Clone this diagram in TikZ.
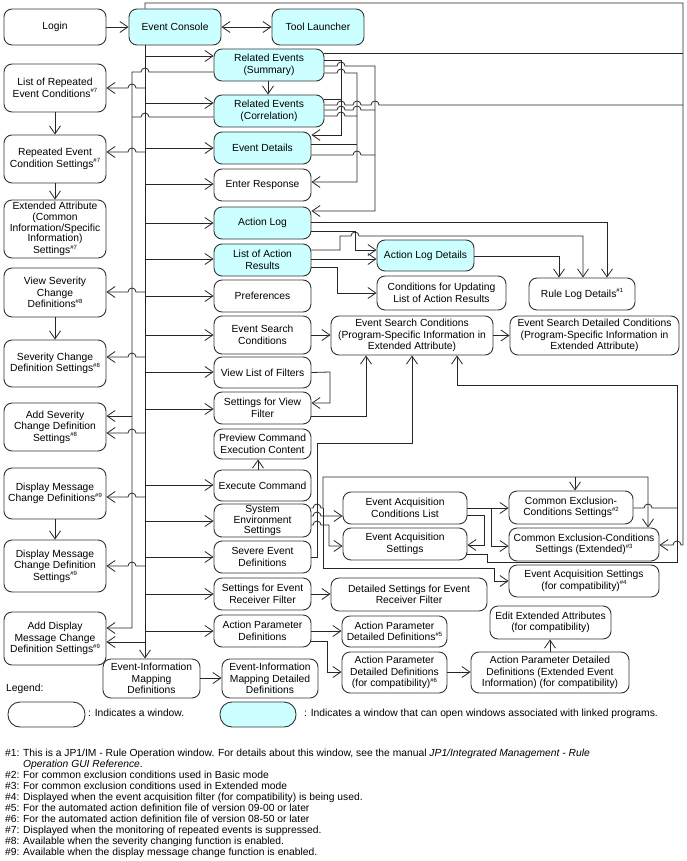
\documentclass[tikz,border=0pt]{standalone}
\usepackage{fontspec}
\setmainfont{Liberation Sans}
\usetikzlibrary{arrows.meta}
\definecolor{cyanfill}{HTML}{CCFFFF}
\definecolor{edgecol}{HTML}{333333}
\newcommand{\hopr}[2]{-- ({#1-4},#2) arc[start angle=180,end angle=0,radius=4pt]}
\newcommand{\hopl}[2]{-- ({#1+4},#2) arc[start angle=0,end angle=180,radius=4pt]}
\newcommand{\sfn}[1]{\raisebox{0.85ex}{\fontsize{6}{6}\selectfont\##1}}
\newcommand{\win}[6][]{\node[box,#1,minimum width={#4-#2},minimum height={#5-#3}] (#6) at ({(#2+#4)/2},{(#3+#5)/2})}
\tikzset{
  box/.style={draw=edgecol, line width=0.9pt, rounded corners=8pt, fill=white, align=center, inner sep=0pt, font=\fontsize{10.3}{11.5}\selectfont},
  cy/.style={fill=cyanfill},
  ln/.style={draw=black!85, line width=0.8pt},
  arr/.style={ln, -{Straight Barb[length=8pt,width=11pt]}},
  arrb/.style={ln, {Straight Barb[length=8pt,width=11pt]}-{Straight Barb[length=8pt,width=11pt]}},
  txt/.style={inner sep=0pt, anchor=west, font=\fontsize{10.3}{11.5}\selectfont, text height=7.5pt, text depth=2pt},
}
\begin{document}
\begin{tikzpicture}[x=1pt,y=-1pt]
\useasboundingbox (0,0) rectangle (687,861);
% ---------- left column
\win{4}{9}{106}{45}{login} {Login};
\win{4}{64}{106}{112}{lrec} {List of Repeated\\Event Conditions\sfn{7}};
\win{4}{135}{106}{183}{rrcs} {Repeated Event\\Condition Settings\sfn{7}};
\win[font=\fontsize{10.3}{10.7}\selectfont]{4}{200}{106}{258}{ea} {Extended Attribute\\(Common\\Information/Specific\\Information)\\Settings\sfn{7}};
\win{4}{268}{106}{317}{vscd} {View Severity\\Change\\Definitions\sfn{8}};
\win{4}{340}{106}{387}{scds} {Severity Change\\Definition Settings\sfn{8}};
\win{4}{403}{106}{451}{ascd} {Add Severity\\Change Definition\\Settings\sfn{8}};
\win{4}{468}{106}{519}{dmcd} {Display Message\\Change Definitions\sfn{9}};
\win{4}{540}{106}{592}{dmcds} {Display Message\\Change Definition\\Settings\sfn{9}};
\win{4}{612}{106}{665}{admcd} {Add Display\\Message Change\\Definition Settings\sfn{9}};
% ---------- middle column
\win[cy]{129}{9}{221}{45}{ec} {Event Console};
\win[cy]{272}{9}{364}{45}{tl} {Tool Launcher};
\win[cy]{214}{49}{324}{81}{res} {Related Events\\(Summary)};
\win[cy]{214}{95}{324}{127}{rec} {Related Events\\(Correlation)};
\win[cy]{214}{132}{311}{164}{ed} {Event Details};
\win{214}{169}{311}{201}{er} {Enter Response};
\win[cy]{214}{207}{311}{239}{al} {Action Log};
\win[cy]{214}{244}{311}{276}{lar} {List of Action\\Results};
\win{214}{280}{311}{312}{pref} {Preferences};
\win{214}{316}{311}{354}{esc} {Event Search\\Conditions};
\win{214}{357}{311}{388}{vlf} {View List of Filters};
\win{214}{392}{311}{424}{svf} {Settings for View\\Filter};
\win{214}{429}{311}{459}{pcec} {Preview Command\\Execution Content};
\win{214}{470}{311}{501}{exc} {Execute Command};
\win[font=\fontsize{10.3}{10.8}\selectfont]{214}{504}{311}{537}{ses} {System\\Environment\\Settings};
\win{214}{541}{311}{573}{sed} {Severe Event\\Definitions};
\win{214}{578}{311}{610}{serf} {Settings for Event\\Receiver Filter};
\win{214}{615}{311}{647}{apd} {Action Parameter\\Definitions};
\win{103}{659}{200}{698}{eimd} {Event-Information\\Mapping\\Definitions};
\win{222}{659}{318}{698}{eimdd} {Event-Information\\Mapping Detailed\\Definitions};
% ---------- right part
\win[cy]{377}{240}{474}{271}{ald} {Action Log Details};
\win{377}{276}{506}{310}{cfu} {Conditions for Updating\\List of Action Results};
\win{529}{278}{635}{310}{rld} {Rule Log Details\sfn{1}};
\win{331}{316}{493}{355}{escps} {Event Search Conditions\\(Program-Specific Information in\\Extended Attribute)};
\win{510}{316}{679}{355}{esdc} {Event Search Detailed Conditions\\(Program-Specific Information in\\Extended Attribute)};
\win{343}{492}{467}{524}{eacl} {Event Acquisition\\Conditions List};
\win{343}{528}{467}{560}{eas} {Event Acquisition\\Settings};
\win{509}{491}{633}{524}{cecs} {Common Exclusion-\\Conditions Settings\sfn{2}};
\win{509}{528}{659}{561}{cecx} {Common Exclusion-Conditions\\Settings (Extended)\sfn{3}};
\win{509}{565}{659}{597}{easc} {Event Acquisition Settings\\(for compatibility)\sfn{4}};
\win{331}{578}{487}{611}{dserf} {Detailed Settings for Event\\Receiver Filter};
\win{342}{616}{447}{647}{apdd5} {Action Parameter\\Detailed Definitions\sfn{5}};
\win{342}{652}{447}{693}{apdd6} {Action Parameter\\Detailed Definitions\\(for compatibility)\sfn{6}};
\win{490}{606}{611}{639}{eeac} {Edit Extended Attributes\\(for compatibility)};
\win{471}{652}{629}{693}{apdde} {Action Parameter Detailed\\Definitions (Extended Event\\Information) (for compatibility)};
% ---------- connectors: top
\draw[arr] (login.east) -- (ec.west);
\draw[arrb] (ec.east) -- (tl.west);
\draw[arr] (ec.north -| 145,0) -- (145,3) -- (683,3) -- (683,545) \hopl{677}{545} -- (cecx.east |- 0,545);
\draw[ln] (res.east |- 0,53) -- (683,53);
\draw[ln] (rec.east |- 0,105) \hopr{341}{105} \hopr{357}{105} \hopr{375}{105} -- (683,105);
% Event Console bus
\draw[arr] (ec.south -| 145,0) -- (eimd.north -| 145,0);
\foreach \n/\y in {res/56,rec/103,ed/148,er/184,al/223,lar/259,pref/296,esc/335,vlf/372,svf/409,exc/485,ses/521,sed/557,serf/594,apd/631}
  \draw[arr] (145,\y) -- (\n.west |- 0,\y);
\foreach \n/\y in {lrec/88,rrcs/152,vscd/292,scds/357,ascd/433,dmcd/497,dmcds/566}
  \draw[arr] (145,\y) \hopl{132}{\y} -- (\n.east |- 0,\y);
\draw[arr] (145,642) -- (admcd.east |- 0,642);
% related events bus to the left
\draw[arr] (res.west |- 0,72) \hopl{145}{72} -- (132,72) -- (132,628) -- (admcd.east |- 0,628);
\draw[ln] (rec.west |- 0,117) \hopl{145}{117} -- (132,117);
\draw[arr] (132,416) -- (ascd.east |- 0,416);
% left column chains
\draw[arr] (lrec.south) -- (rrcs.north);
\draw[arr] (rrcs.south) -- (ea.north);
\draw[arr] (vscd.south) -- (scds.north);
\draw[arr] (dmcd.south) -- (dmcds.north);
\draw[arr] (res.south -| 268,0) -- (rec.north -| 268,0);
\draw[arr] (exc.north -| 258,0) -- (pcec.south -| 258,0);
% related events to the right
\draw[arr] (res.east |- 0,60) -- (341,60) -- (341,135) -- (ed.east |- 0,135);
\draw[ln] (rec.east |- 0,99) -- (341,99);
\draw[arr] (res.east |- 0,73) \hopr{341}{73} -- (357,73) -- (357,182) -- (er.east |- 0,182);
\draw[ln] (rec.east |- 0,116) \hopr{341}{116} -- (357,116);
\draw[ln] (ed.east |- 0,144) -- (357,144);
\draw[arr] (res.east |- 0,66) \hopr{341}{66} -- (375,66) -- (375,211) -- (al.east |- 0,211);
\draw[ln] (rec.east |- 0,110) \hopr{341}{110} \hopr{357}{110} -- (375,110);
\draw[ln] (ed.east |- 0,155) \hopr{357}{155} -- (375,155);
% action log area
\draw[arr] (al.east |- 0,222) -- (607,222) -- (rld.north -| 607,0);
\draw[arr] (al.east |- 0,231) -- (355,231) -- (355,250) -- (ald.west |- 0,250);
\draw[arr] (lar.east |- 0,250) -- (340,250) -- (340,236) \hopr{355}{236} -- (583,236) -- (rld.north -| 583,0);
\draw[arr] (lar.east |- 0,259) -- (ald.west |- 0,259);
\draw[arr] (lar.east |- 0,267) -- (337,267) -- (337,293) -- (cfu.west |- 0,293);
\draw[arr] (ald.east |- 0,256) -- (559,256) -- (rld.north -| 559,0);
% search conditions
\draw[arr] (esc.east) -- (escps.west |- esc.east);
\draw[arr] (escps.east) -- (esdc.west);
\draw[arr] (vlf.east) -- (330,372) -- (330,403) -- (svf.east |- 0,403);
\draw[arr] (svf.east |- 0,416) -- (366,416) -- (escps.south -| 366,0);
\draw[arr] (sed.east |- 0,557) -- (317,557) -- (317,443) -- (412,443) -- (escps.south -| 412,0);
\draw[arr] (eas.east |- 0,554) -- (487,554) -- (487,562) -- (677,562) -- (677,385) -- (457,385) -- (escps.south -| 457,0);
\draw[ln] (cecs.east |- 0,508) \hopr{648}{508} -- (677,508);
% system environment settings
\draw[arr] (ses.east |- 0,508) \hopr{317}{508} -- (323,508) -- (323,477) -- (648,477) -- (cecx.north -| 648,0);
\draw[arr] (575,477) -- (cecs.north -| 575,0);
\draw[arr] (ses.east |- 0,516) \hopr{317}{516} -- (eacl.west |- 0,516);
\draw[arr] (ses.east |- 0,525) \hopr{317}{525} -- (329,525) -- (329,546) -- (eas.west |- 0,546);
\draw[arr] (323,508) -- (323,568) -- (494,568) -- (494,581) -- (easc.west |- 0,581);
% event acquisition
\draw[arr] (eacl.east |- 0,508) -- (cecs.west |- 0,508);
\draw[arr] (491,508) -- (491,546) -- (cecx.west |- 0,546);
\draw[arr] (eacl.east |- 0,515) -- (484,515) -- (484,545) -- (eas.east |- 0,545);
% lower part
\draw[arr] (serf.east |- 0,594) -- (dserf.west |- 0,594);
\draw[arr] (apd.east |- 0,631) -- (apdd5.west |- 0,631);
\draw[arr] (apd.east |- 0,641) -- (327,641) -- (327,672) -- (apdd6.west |- 0,672);
\draw[arr] (apdd6.east |- 0,672) -- (apdde.west |- 0,672);
\draw[arr] (apdde.north -| 550,0) -- (eeac.south -| 550,0);
\draw[arr] (eimd.east |- 0,678) -- (eimdd.west |- 0,678);
% ---------- legend
\node[txt] (leg) at (6,689) {Legend:};
\node[box,rounded corners=12pt,minimum width=77,minimum height=25] (lg1) at (46.5,714.5) {};
\node[txt] (lg1t) at (88,714) {: Indicates a window.};
\node[box,cy,rounded corners=12pt,minimum width=76,minimum height=25] (lg2) at (258,714.5) {};
\node[txt] (lg2t) at (304,714) {: Indicates a window that can open windows associated with linked programs.};
% ---------- footnotes
\foreach \k/\t [count=\i from 0] in {
  {\#1:}/{This is a JP1/IM - Rule Operation window. For details about this window, see the manual \textit{JP1/Integrated Management - Rule}},
  {}/{\textit{Operation GUI Reference}.},
  {\#2:}/{For common exclusion conditions used in Basic mode},
  {\#3:}/{For common exclusion conditions used in Extended mode},
  {\#4:}/{Displayed when the event acquisition filter (for compatibility) is being used.},
  {\#5:}/{For the automated action definition file of version 09-00 or later},
  {\#6:}/{For the automated action definition file of version 08-50 or later},
  {\#7:}/{Displayed when the monitoring of repeated events is suppressed.},
  {\#8:}/{Available when the severity changing function is enabled.},
  {\#9:}/{Available when the display message change function is enabled.}}
{
  \node[txt] (fk\i) at (5,{754+11*\i}) {\k};
  \node[txt] (ft\i) at (23,{754+11*\i}) {\t};
}
\end{tikzpicture}
\end{document}
